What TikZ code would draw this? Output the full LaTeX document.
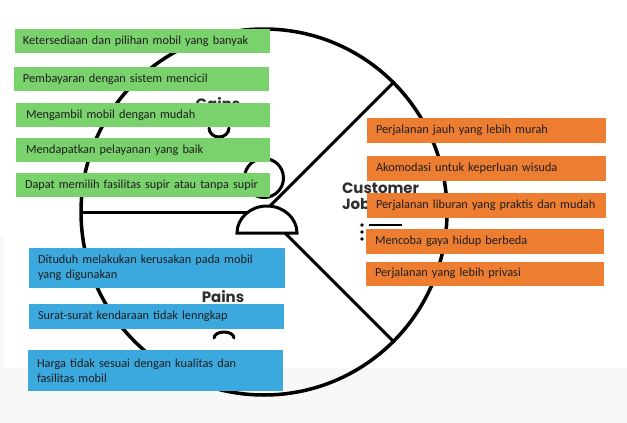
\documentclass[tikz,border=0pt]{standalone}
\usepackage{fontspec}
\setmainfont{Carlito}
\newfontfamily\lblfont{Poppins}
\definecolor{gainG}{HTML}{7AD26C}
\definecolor{jobO}{HTML}{ED7D31}
\definecolor{painB}{HTML}{3BA8DE}
\definecolor{ink}{HTML}{1E1E1E}
\definecolor{lbl}{HTML}{2E2E2E}
\definecolor{bgGray}{HTML}{F8F8F8}
\newcommand{\oneline}[1]{\mbox{#1}}
\begin{document}
\begin{tikzpicture}[x=1pt,y=-1pt,
  every node/.style={inner sep=0pt, outer sep=0pt},
  boxbase/.style={anchor=north west, inner xsep=9pt, inner ysep=0pt, align=left,
    text=ink, font=\fontsize{12.3}{15}\selectfont},
  gbox/.style={boxbase, fill=gainG, minimum height=24pt, text width=237pt},
  obox/.style={boxbase, fill=jobO, minimum height=24.5pt, text width=220pt},
  bbox/.style={boxbase, fill=painB, text width=238pt},
  frame/.style={line width=3.5pt, draw=black},
  divider/.style={line width=3pt, draw=black},
  canvlabel/.style={font=\lblfont\bfseries\fontsize{15}{15}\selectfont, text=lbl, align=left}
]
\useasboundingbox (0,0) rectangle (627,423);
\fill[white] (0,0) rectangle (627,423);
\fill[bgGray] (0,368) rectangle (627,423);
\fill[bgGray] (0,235) rectangle (4,368);

% customer profile circle
\node[circle, frame, minimum size=366pt] (prof) at (264,212) {};
\draw[divider] (prof.center) -- (prof.180);
\draw[divider] (prof.center) -- (prof.45);
\draw[divider] (prof.center) -- (prof.-45);

% person icon
\draw[divider, fill=white] (264,178) circle[radius=19.5pt];
\draw[divider, fill=white] (237,233) arc[start angle=180, end angle=0, x radius=30pt, y radius=27pt] -- cycle;

% section icons
\draw[line width=3pt, line cap=round] (209,128) arc[start angle=180, end angle=360, x radius=10pt, y radius=9pt];
\draw[line width=3pt, line cap=round] (214,338) arc[start angle=180, end angle=0, x radius=10pt, y radius=6pt];
\foreach \yy in {225,232,239} {
  \fill (362,\yy) circle[radius=1.8pt];
  \draw[line width=2.6pt] (369,\yy) -- (402,\yy);
}

% section labels
\node[canvlabel] (lgain) at (218,104) {Gains};
\node[canvlabel, anchor=north west] (ljob) at (342,183) {Customer\\[1pt]Jobs};
\node[canvlabel] (lpain) at (223,297) {Pains};

% gains
\node[gbox, inner xsep=8pt, text width=239pt] (g1) at (15,29) {\oneline{Ketersediaan dan pilihan mobil yang banyak}};
\node[gbox] (g2) at (14,67) {\oneline{Pembayaran dengan sistem mencicil}};
\node[gbox, inner xsep=10pt, text width=234pt] (g3) at (16,103) {\oneline{Mengambil mobil dengan mudah}};
\node[gbox, inner xsep=10pt, text width=234pt] (g4) at (16,138) {\oneline{Mendapatkan pelayanan yang baik}};
\node[gbox, inner xsep=9pt, text width=236pt] (g5) at (16,173) {\oneline{Dapat memilih fasilitas supir atau tanpa supir}};

% customer jobs
\node[obox, text width=221pt] (o1) at (367,118) {\oneline{Perjalanan jauh yang lebih murah}};
\node[obox, text width=221pt] (o2) at (367,156) {\oneline{Akomodasi untuk keperluan wisuda}};
\node[obox, text width=221pt] (o3) at (367,193) {\oneline{Perjalanan liburan yang praktis dan mudah}};
\node[obox] (o4) at (366,229) {\oneline{Mencoba gaya hidup berbeda}};
\node[obox] (o5) at (366,261.5) {\oneline{Perjalanan yang lebih privasi}};

% pains
\node[bbox, minimum height=40pt] (p1) at (29,248) {\oneline{Dituduh melakukan kerusakan pada mobil}\\\oneline{yang digunakan}};
\node[bbox, minimum height=25pt, text width=237pt] (p2) at (29,304) {\oneline{Surat-surat kendaraan tidak lenngkap}};
\node[bbox, minimum height=41pt, text width=237pt] (p3) at (28,350) {\oneline{Harga tidak sesuai dengan kualitas dan}\\\oneline{fasilitas mobil}};
\end{tikzpicture}
\end{document}
